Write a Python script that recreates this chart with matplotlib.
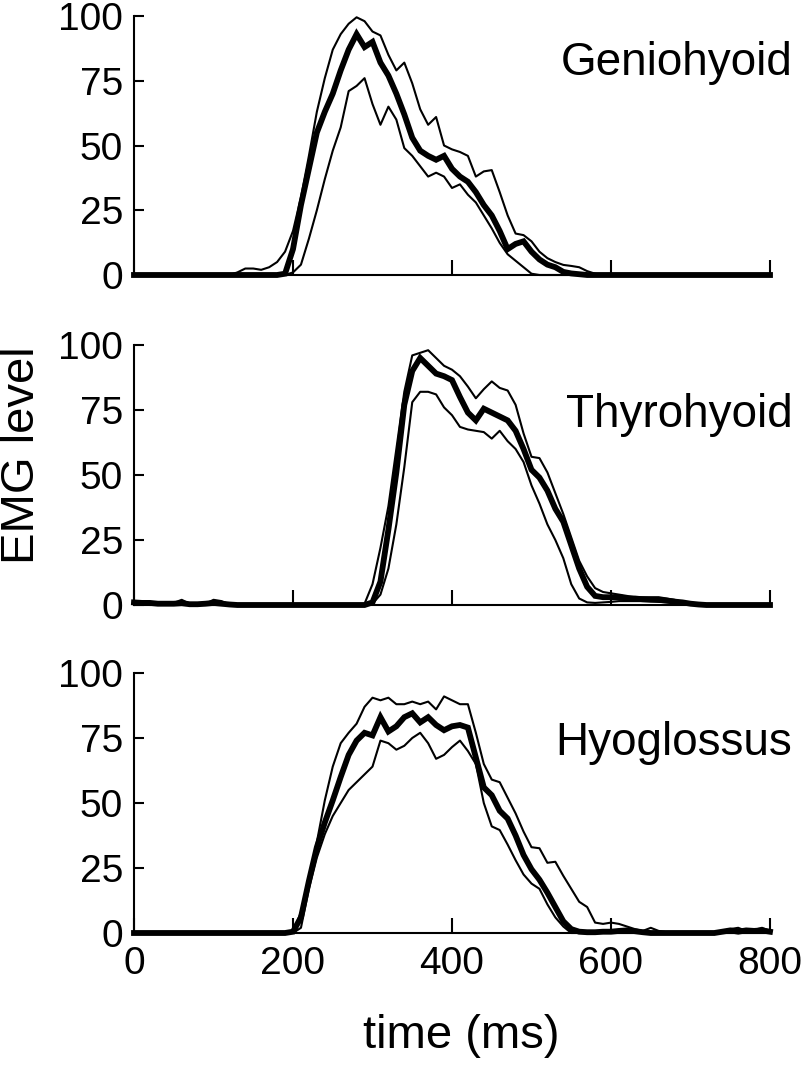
import matplotlib
matplotlib.use("Agg")
import matplotlib.pyplot as plt
import numpy as np

plt.rcParams['font.family'] = ['Liberation Sans', 'DejaVu Sans']

time_ms = list(range(0, 801, 10))

# ---------------- Geniohyoid ----------------
gen_mean = [0]*19 + [0.5, 10, 27, 41, 55, 63, 70, 79, 87, 93, 88, 90, 82, 77, 70, 62, 53, 48, 46, 44.5, 46,
            41, 38, 36, 32, 27, 23, 17, 10, 12, 13, 9, 6, 4, 3, 1.2, 0.6, 0.3] + [0]*24
gen_upper = [0]*13 + [1, 2.5, 2.5, 2, 3, 5, 9, 17, 30, 46, 63, 76, 87, 93, 97, 99.5, 98, 94, 92.5, 85, 79, 82,
             74, 64, 58, 61, 50, 48.5, 47.5, 46, 38, 40, 40.5, 32, 23, 16, 15.4, 13, 9, 6.5, 5, 3.9, 3.5, 3,
             1.5, 0.5] + [0]*22
gen_lower = [0]*20 + [1, 4, 14, 25, 37, 48, 57, 71, 73, 76, 66, 58, 65, 60, 49, 46, 42, 38, 39.5, 38, 33.6,
             35, 31, 28, 23, 18, 12.4, 8, 5.5, 3, 0.5] + [0]*30

# ---------------- Thyrohyoid ----------------
thy_mean = [1.0, 0.8, 0.8, 0.5, 0.5, 0.5, 0.7, 0.3, 0.3, 0.5, 0.8, 0.5, 0.2] + [0]*17 + \
           [1, 9, 29, 51, 77, 90, 95, 92, 89, 88, 86.5, 80, 74, 71, 75.5, 74, 72.5, 71, 67, 60, 52, 49, 44,
            37, 32, 23, 14, 7, 3.5, 3, 3, 3, 2.5, 2.5, 2.2, 2, 2, 1.7, 1.3, 1, 0.5, 0.2] + [0]*9
thy_upper = [1, 0.8, 0.5, 0.3, 0.3, 0.8, 2, 0.5, 0.2, 0.5, 2, 1.5, 0.3] + [0]*16 + \
            [0.5, 8, 22, 38, 60, 82, 96, 97, 98, 95, 92, 90.5, 88, 84, 79.5, 83, 86, 83.5, 82.5, 77, 66, 57,
             56.5, 51, 43, 35, 26, 17, 11, 6.5, 5, 4.5, 4, 3.5, 3, 3, 3, 3, 2.5, 2, 1.2, 0.5] + [0]*10
thy_lower = [0.5, 0.3] + [0]*28 + \
            [0.5, 4, 14, 31, 53, 78, 82, 82, 81, 76, 73, 68.5, 67.5, 67, 66.5, 64, 67, 63, 60, 55, 46, 39,
             31, 25, 18, 8, 2.5, 1, 0.8, 1, 1.2, 1.5, 1.5, 1.5, 1.5, 1.5, 1.2, 1, 0.7, 0.4] + [0]*11

# ---------------- Hyoglossus ----------------
hyo_mean = [0]*20 + [0.5, 6, 20, 33, 42.5, 51, 60, 68.5, 74, 77, 76, 83, 77.5, 79.5, 83, 84.5, 81, 83, 80, 78,
            79.5, 80, 79, 67.5, 56, 53, 47, 44, 37.5, 30, 24.5, 20.5, 15.5, 10, 4.5, 1.5, 0.5, 0.3, 0.3, 0.5,
            0.5, 0.8, 1, 0.7, 0.3] + [0]*9 + [0.5, 1, 0.5, 1, 0.8, 1, 0.5]
hyo_upper = [0]*20 + [0.5, 8, 20, 35, 51, 64, 73, 77, 80.5, 87, 90.5, 89.5, 90.5, 88, 88, 89, 88, 89, 86, 91,
             89.5, 88, 88, 77, 65, 59, 58, 52, 46, 39, 33, 32.6, 27, 27.4, 22, 17, 12, 10, 4, 3.5, 4, 3.5,
             2.5, 1.5, 0.8, 2, 0.8, 0.3] + [0]*6 + [0.8, 1.5, 2, 0.8, 1.2, 2, 0.8]
hyo_lower = [0]*21 + [2, 17, 29, 38, 45, 50, 55, 58, 61, 64, 74, 73, 70.5, 72, 75, 77, 73, 67, 68.5, 71.5,
             74, 70, 65, 50, 41, 39.6, 34, 28, 22.5, 19, 17, 11, 6, 2.5] + [0]*26

panels = [
    ("Geniohyoid", gen_mean, gen_upper, gen_lower, 82),
    ("Thyrohyoid", thy_mean, thy_upper, thy_lower, 73),
    ("Hyoglossus", hyo_mean, hyo_upper, hyo_lower, 73),
]

yticks = [0, 25, 50, 75, 100]
xticks = [0, 200, 400, 600, 800]

fig = plt.figure(figsize=(8.02, 10.69), dpi=100)
left, width = 134/802, 636/802
tops = [16, 345, 673]
bottoms = [275, 605, 933]

for i, (name, m, up, lo, ylab) in enumerate(panels):
    b = 1 - bottoms[i]/1069
    h = (bottoms[i] - tops[i])/1069
    ax = fig.add_axes([left, b, width, h])
    ax.plot(time_ms, up, color='black', lw=1.5, clip_on=False, zorder=3)
    ax.plot(time_ms, lo, color='black', lw=1.5, clip_on=False, zorder=3)
    ax.plot(time_ms, m, color='black', lw=4.2, clip_on=False, zorder=4,
            solid_joinstyle='miter')
    ax.set_xlim(0, 800)
    ax.set_ylim(0, 100)
    for s in ['top', 'right']:
        ax.spines[s].set_visible(False)
    for s in ['left', 'bottom']:
        ax.spines[s].set_linewidth(1.5)
    ax.set_yticks(yticks)
    ax.set_xticks(xticks)
    ax.tick_params(axis='y', direction='in', length=7, width=1.5, labelsize=28, pad=8)
    ax.tick_params(axis='x', direction='in', length=11, width=1.5, labelsize=28, pad=9)
    if i < 2:
        ax.set_xticklabels([])
    ax.text(828, ylab, name, ha='right', va='center', fontsize=33, clip_on=False)

fig.text(0.028, 0.574, "EMG level", rotation=90, ha='center', va='center', fontsize=34)
fig.text(0.575, 0.031, "time (ms)", ha='center', va='center', fontsize=34)

fig.savefig("out.png", dpi=100)
